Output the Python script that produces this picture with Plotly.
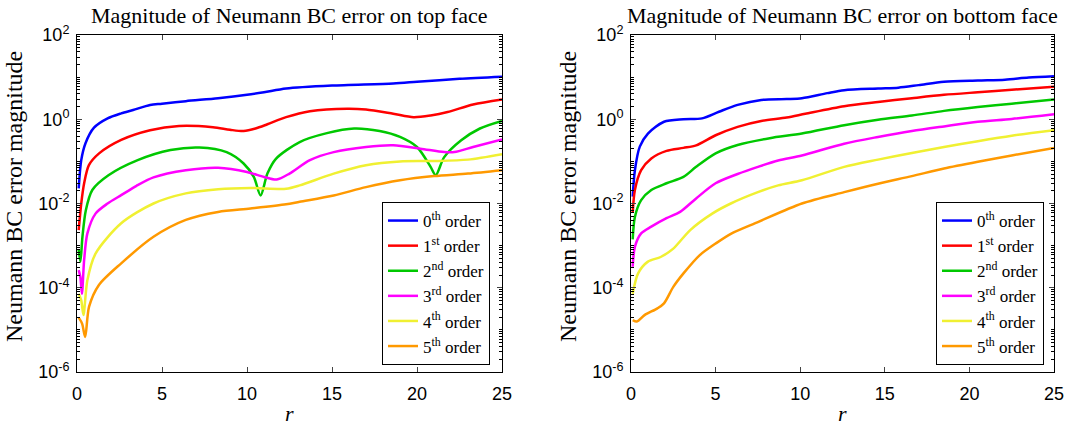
import plotly.graph_objects as go

# ---------------- data: top face ----------------
top_r0 = [0.1, 0.25, 0.5, 1.0, 1.8, 2.6, 3.3, 4.3, 5.0, 6.4, 8.3, 10.0, 11.0, 12.3, 15.0, 18.6, 20.0, 22.5, 25.0]
top_e0 = [2.29e-2, 1.07e-1, 2.69e-1, 6.31e-1, 1.05, 1.38, 1.66, 2.19, 2.34, 2.69, 3.16, 3.80, 4.37, 5.37, 6.31, 7.08, 7.76, 9.12, 10.2]

top_r1 = [0.1, 0.25, 0.42, 0.7, 1.3, 2.6, 4.3, 6.0, 8.0, 9.0, 9.8, 10.5, 11.2, 12.3, 13.7, 15.9, 17.0, 18.6, 19.8, 20.8, 21.8, 23.3, 25.0]
top_e1 = [2.34e-3, 1.0e-2, 3.02e-2, 8.13e-2, 1.55e-1, 3.24e-1, 5.50e-1, 6.92e-1, 6.46e-1, 5.62e-1, 5.25e-1, 6.03e-1, 7.59e-1, 1.12, 1.55, 1.78, 1.70, 1.35, 1.12, 1.23, 1.48, 2.24, 2.95]

top_r2 = [0.1, 0.2, 0.32, 0.52, 0.9, 1.85, 3.57, 5.5, 7.2, 8.8, 9.8, 10.4, 10.8, 11.2, 11.7, 13.1, 14.7, 16.3, 17.8, 19.0, 20.0, 20.8, 21.1, 21.6, 22.6, 23.7, 25.0]
top_e2 = [7.94e-4, 4.17e-4, 1.62e-3, 6.92e-3, 2.09e-2, 4.68e-2, 1.07e-1, 1.86e-1, 2.14e-1, 1.66e-1, 8.91e-2, 4.27e-2, 1.55e-2, 5.13e-2, 1.15e-1, 2.88e-1, 4.68e-1, 6.03e-1, 5.25e-1, 3.80e-1, 2.19e-1, 7.41e-2, 4.68e-2, 1.26e-1, 3.16e-1, 6.03e-1, 9.12e-1]

top_r3 = [0.1, 0.2, 0.29, 0.42, 0.61, 1.09, 1.8, 2.6, 3.5, 4.5, 6.4, 8.3, 10.0, 11.0, 11.75, 12.5, 13.7, 15.1, 17.0, 18.6, 20.2, 21.6, 22.2, 23.3, 25.0]
top_e3 = [2.63e-4, 1.78e-4, 7.24e-5, 4.57e-4, 1.95e-3, 5.75e-3, 1.0e-2, 1.58e-2, 2.63e-2, 4.17e-2, 6.17e-2, 7.08e-2, 5.62e-2, 4.27e-2, 3.72e-2, 5.13e-2, 1.07e-1, 1.66e-1, 2.19e-1, 2.40e-1, 2.0e-1, 1.66e-1, 1.66e-1, 2.19e-1, 3.31e-1]

top_r4 = [0.1, 0.25, 0.38, 0.61, 1.09, 2.6, 4.5, 6.4, 8.3, 10.2, 12.3, 13.1, 15.1, 17.0, 19.0, 21.0, 23.0, 25.0]
top_e4 = [7.24e-5, 5.01e-5, 2.24e-5, 1.51e-4, 6.46e-4, 3.39e-3, 1.0e-2, 1.74e-2, 2.19e-2, 2.34e-2, 2.24e-2, 2.69e-2, 5.13e-2, 8.13e-2, 1.0e-1, 1.02e-1, 1.10e-1, 1.48e-1]

top_r5 = [0.1, 0.3, 0.48, 0.71, 1.28, 2.6, 4.5, 6.4, 8.3, 10.2, 12.3, 13.1, 15.1, 17.0, 19.0, 21.0, 23.0, 25.0]
top_e5 = [1.95e-5, 1.41e-5, 6.76e-6, 3.55e-5, 1.15e-4, 3.80e-4, 1.62e-3, 4.07e-3, 6.31e-3, 7.59e-3, 9.55e-3, 1.10e-2, 1.55e-2, 2.45e-2, 3.55e-2, 4.47e-2, 5.13e-2, 6.17e-2]

# ---------------- data: bottom face ----------------
bot_r0 = [0.1, 0.23, 0.52, 1.0, 1.95, 3.1, 4.2, 5.2, 6.3, 7.7, 9.2, 10.1, 11.6, 12.6, 14.6, 15.8, 17.0, 18.5, 20.5, 22.1, 23.5, 25.0]
bot_e0 = [1.45e-2, 6.17e-2, 2.24e-1, 4.57e-1, 8.71e-1, 1.0, 1.05, 1.51, 2.19, 2.88, 3.02, 3.16, 4.17, 4.90, 5.37, 5.62, 6.46, 7.76, 8.32, 8.71, 9.77, 10.5]

bot_r1 = [0.1, 0.23, 0.6, 1.2, 2.1, 3.1, 3.85, 5.0, 6.3, 7.7, 9.2, 10.3, 12.6, 14.6, 16.6, 18.5, 20.5, 22.5, 25.0]
bot_e1 = [6.03e-3, 2.09e-2, 6.17e-2, 1.17e-1, 1.78e-1, 2.09e-1, 2.40e-1, 4.17e-1, 6.61e-1, 9.12e-1, 1.10, 1.35, 2.04, 2.57, 3.16, 3.80, 4.37, 5.01, 5.89]

bot_r2 = [0.1, 0.23, 0.6, 1.2, 2.1, 3.1, 3.85, 5.0, 6.3, 8.2, 10.1, 12.6, 14.6, 16.6, 18.5, 20.5, 22.5, 25.0]
bot_e2 = [1.41e-3, 4.79e-3, 1.20e-2, 2.09e-2, 3.02e-2, 4.27e-2, 7.41e-2, 1.55e-1, 2.45e-1, 3.55e-1, 4.57e-1, 7.24e-1, 9.77e-1, 1.23, 1.58, 1.95, 2.34, 2.95]

bot_r3 = [0.1, 0.23, 0.6, 1.2, 2.1, 2.9, 3.85, 5.0, 6.3, 7.5, 8.7, 10.1, 12.6, 14.6, 16.6, 18.5, 20.5, 22.5, 25.0]
bot_e3 = [3.16e-4, 9.33e-4, 1.95e-3, 2.82e-3, 4.47e-3, 6.31e-3, 1.32e-2, 3.02e-2, 5.01e-2, 7.41e-2, 1.05e-1, 1.38e-1, 2.63e-1, 3.80e-1, 5.25e-1, 6.76e-1, 8.71e-1, 1.02, 1.32]

bot_r4 = [0.1, 0.42, 1.0, 1.75, 2.5, 3.5, 4.8, 5.9, 7.5, 8.7, 10.1, 12.6, 14.6, 16.6, 18.5, 20.5, 22.5, 25.0]
bot_e4 = [7.24e-5, 2.19e-4, 4.17e-4, 5.37e-4, 8.51e-4, 2.34e-3, 5.75e-3, 1.0e-2, 1.86e-2, 2.69e-2, 3.55e-2, 7.41e-2, 1.10e-1, 1.58e-1, 2.19e-1, 3.02e-1, 4.07e-1, 5.50e-1]

bot_r5 = [0.1, 0.35, 0.8, 1.56, 1.95, 2.5, 3.1, 4.05, 5.0, 5.9, 7.5, 10.1, 12.6, 14.6, 16.6, 18.5, 20.5, 22.5, 25.0]
bot_e5 = [1.70e-5, 1.58e-5, 2.24e-5, 3.24e-5, 4.27e-5, 1.05e-4, 2.19e-4, 5.89e-4, 1.12e-3, 1.91e-3, 3.63e-3, 1.0e-2, 1.86e-2, 2.95e-2, 4.47e-2, 6.76e-2, 9.77e-2, 1.38e-1, 2.09e-1]

order_labels = ["0<sup>th</sup> order", "1<sup>st</sup> order", "2<sup>nd</sup> order",
                "3<sup>rd</sup> order", "4<sup>th</sup> order", "5<sup>th</sup> order"]
x_ticks = [0, 5, 10, 15, 20, 25]
y_tickvals = [1e-6, 1e-4, 1e-2, 1, 1e2]
y_ticktext = ["10<sup>-6</sup>", "10<sup>-4</sup>", "10<sup>-2</sup>", "10<sup>0</sup>", "10<sup>2</sup>"]
titles = ["Magnitude of Neumann BC error on top face", "Magnitude of Neumann BC error on bottom face"]
y_title = "Neumann BC error magnitude"
x_title = "<i>r</i>"

colors = ["#0000ff", "#ff0000", "#00c800", "#ff00ff", "#f0f032", "#ff9900"]

top_r = [top_r0, top_r1, top_r2, top_r3, top_r4, top_r5]
top_e = [top_e0, top_e1, top_e2, top_e3, top_e4, top_e5]
bot_r = [bot_r0, bot_r1, bot_r2, bot_r3, bot_r4, bot_r5]
bot_e = [bot_e0, bot_e1, bot_e2, bot_e3, bot_e4, bot_e5]

# minor tick positions of the log axis (2..9 x 10^k, plus unlabelled decades)
minor_vals = [m * 10.0 ** k for k in range(-6, 2) for m in range(1, 10)
              if not (m == 1 and k % 2 == 0)]

SERIF = "Liberation Serif"
SANS = "Liberation Sans"
W, H = 1091, 429

fig = go.Figure()
for i in range(6):
    fig.add_trace(go.Scatter(x=top_r[i], y=top_e[i], mode="lines", name=order_labels[i],
                             line=dict(color=colors[i], width=2.5, shape="spline", smoothing=0.8),
                             xaxis="x", yaxis="y", legend="legend"))
for i in range(6):
    fig.add_trace(go.Scatter(x=bot_r[i], y=bot_e[i], mode="lines", name=order_labels[i],
                             line=dict(color=colors[i], width=2.5, shape="spline", smoothing=0.8),
                             xaxis="x2", yaxis="y2", legend="legend2"))
# empty traces so that the minor-tick overlay axes get drawn
for xa, ya in [("x", "y3"), ("x", "y4"), ("x2", "y5"), ("x2", "y6")]:
    fig.add_trace(go.Scatter(x=[], y=[], xaxis=xa, yaxis=ya, showlegend=False, hoverinfo="skip"))

y0, y1 = 1 - 372 / H, 1 - 35 / H
xd1 = [77 / W, 502 / W]
xd2 = [631 / W, 1054 / W]

xcommon = dict(range=[0, 25], tickmode="array", tickvals=x_ticks, ticks="inside", ticklen=5,
               showline=True, linecolor="black", linewidth=1, mirror="ticks", showgrid=False,
               zeroline=False, tickfont=dict(family=SANS, size=18, color="black"),
               ticklabelstandoff=5, automargin=False)
ycommon = dict(type="log", range=[-6, 2], tickmode="array", tickvals=y_tickvals, ticktext=y_ticktext,
               ticks="inside", ticklen=5, ticklabelstandoff=3, automargin=False,
               showline=True, linecolor="black", linewidth=1, mirror="ticks", showgrid=False,
               tickfont=dict(family=SANS, size=18, color="black"))
minorcommon = dict(type="log", range=[-6, 2], tickmode="array", tickvals=minor_vals,
                   ticks="inside", ticklen=3, tickcolor="black", tickwidth=1, showticklabels=False,
                   showline=False, showgrid=False, zeroline=False, automargin=False)

legcommon = dict(bgcolor="white", bordercolor="black", borderwidth=1,
                 font=dict(family=SERIF, size=17, color="black"),
                 xanchor="right", yanchor="bottom", tracegroupgap=0,
                 entrywidth=80, entrywidthmode="pixels")

ann = []
for t, xd in zip(titles, [xd1, xd2]):
    xc = (xd[0] + xd[1]) / 2
    ann.append(dict(text=t, x=xc, y=1 - 16 / H, xref="paper", yref="paper",
                    showarrow=False, xanchor="center", yanchor="middle",
                    font=dict(family=SERIF, size=22, color="black")))
    ann.append(dict(text=x_title, x=xc, y=1 - 413 / H, xref="paper", yref="paper",
                    showarrow=False, xanchor="center", yanchor="middle",
                    font=dict(family=SERIF, size=22, color="black")))
    ann.append(dict(text=y_title, x=xd[0] - 63 / W, y=1 - 197 / H, xref="paper", yref="paper",
                    showarrow=False, xanchor="center", yanchor="middle", textangle=-90,
                    font=dict(family=SERIF, size=24, color="black")))

fig.update_layout(
    width=W, height=H, margin=dict(l=0, r=0, t=0, b=0, pad=0, autoexpand=False),
    paper_bgcolor="white", plot_bgcolor="white", showlegend=True,
    xaxis=dict(domain=xd1, anchor="y", **xcommon),
    yaxis=dict(domain=[y0, y1], anchor="x", **ycommon),
    xaxis2=dict(domain=xd2, anchor="y2", **xcommon),
    yaxis2=dict(domain=[y0, y1], anchor="x2", **ycommon),
    yaxis3=dict(overlaying="y", anchor="x", side="left", **minorcommon),
    yaxis4=dict(overlaying="y", anchor="x", side="right", **minorcommon),
    yaxis5=dict(overlaying="y2", anchor="x2", side="left", **minorcommon),
    yaxis6=dict(overlaying="y2", anchor="x2", side="right", **minorcommon),
    legend=dict(x=490 / W, y=1 - 365 / H, **legcommon),
    legend2=dict(x=1044 / W, y=1 - 365 / H, **legcommon),
    annotations=ann,
)

fig.write_html("out.html")
